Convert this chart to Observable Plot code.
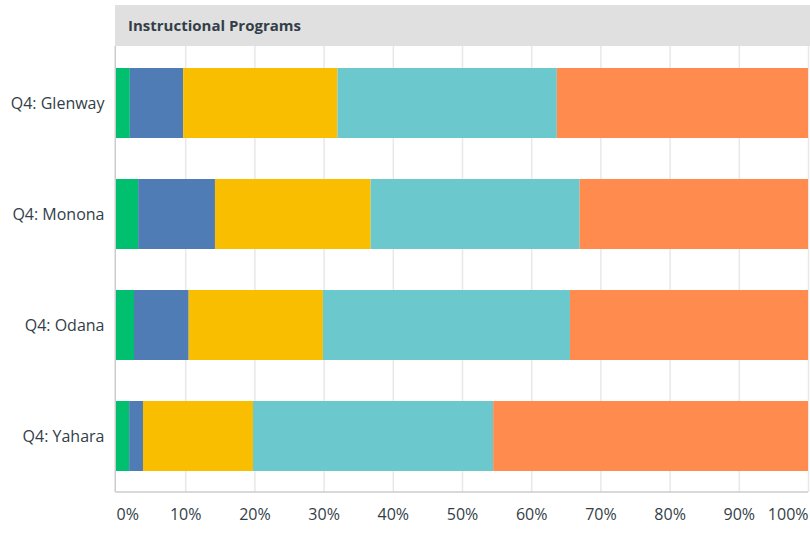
<!DOCTYPE html>
<html><head><meta charset="utf-8">
<script src="https://cdn.jsdelivr.net/npm/d3@7"></script>
<script src="https://cdn.jsdelivr.net/npm/@observablehq/plot@0.6"></script>
<style>
body{margin:0;background:#fff;}
#wrap{position:relative;width:810px;height:533px;font-family:"Open Sans",sans-serif;}
#wrap svg{position:absolute;left:0;top:0;}
#header{position:absolute;left:115px;top:5px;width:695px;height:41px;background:#e0e0e0;color:#333e48;font-weight:700;font-size:15px;line-height:41px;padding-left:13px;box-sizing:border-box;}
</style></head><body>
<div id="wrap"><div id="header">Instructional Programs</div></div>
<script>
const sites = ["Q4: Glenway", "Q4: Monona", "Q4: Odana", "Q4: Yahara"];
const series = ["Response 1", "Response 2", "Response 3", "Response 4", "Response 5"];
const glenway = [2.0, 7.7, 22.3, 31.7, 36.3];
const monona  = [3.2, 11.1, 22.5, 30.2, 33.0];
const odana   = [2.6, 7.9, 19.4, 35.7, 34.4];
const yahara  = [1.9, 2.0, 15.9, 34.7, 45.5];
const colors = ["#00bf6f", "#507cb6", "#f9be00", "#6bc8cd", "#ff8b4f"];
const ticks = [0, 10, 20, 30, 40, 50, 60, 70, 80, 90, 100];
const tickLabels = ticks.map(t => t + "%");

const rows = [glenway, monona, odana, yahara];
const data = [];
sites.forEach((s, i) => series.forEach((k, j) => data.push({site: s, series: k, value: rows[i][j]})));
const tickData = ticks.map((t, i) => ({t, label: tickLabels[i]}));

const axisLines = (index, scales, values, dim) => {
  const g = d3.create("svg:g").attr("stroke", "#cccccc").attr("stroke-width", 1.5);
  const x0 = dim.marginLeft - 0.75;
  g.append("line").attr("x1", x0).attr("x2", x0).attr("y1", dim.marginTop).attr("y2", dim.height - dim.marginBottom);
  g.append("line").attr("x1", x0).attr("x2", dim.width - dim.marginRight).attr("y1", dim.height - dim.marginBottom).attr("y2", dim.height - dim.marginBottom);
  return g.node();
};

const tickStyle = {x: "t", text: "label", frameAnchor: "bottom", dy: 27, fontSize: 16, fill: "#333e48"};

const chart = Plot.plot({
  width: 810,
  height: 533,
  marginTop: 46,
  marginBottom: 41,
  marginLeft: 116,
  marginRight: 2,
  style: {fontFamily: "'Open Sans', sans-serif", fontSize: "16px", color: "#333e48", background: "#fff"},
  x: {domain: [0, 100], axis: null},
  y: {domain: sites, paddingInner: 0.372, paddingOuter: 0.186, label: null, axis: null},
  color: {domain: series, range: colors},
  marks: [
    Plot.ruleX(ticks.slice(1), {stroke: "#e8e8e8", strokeWidth: 1.5}),
    Plot.barX(data, Plot.stackX({x: "value", y: "site", fill: "series"})),
    axisLines,
    Plot.axisY({tickSize: 0, tickPadding: 12, fontSize: 16, fill: "#333e48", label: null}),
    Plot.text(tickData.filter(d => d.t === 0), {...tickStyle, textAnchor: "start"}),
    Plot.text(tickData.filter(d => d.t > 0 && d.t < 100), {...tickStyle, textAnchor: "middle"}),
    Plot.text(tickData.filter(d => d.t === 100), {...tickStyle, textAnchor: "end"})
  ]
});
const wrap = document.getElementById("wrap");
wrap.insertBefore(chart, wrap.firstChild);
</script>
</body></html>
